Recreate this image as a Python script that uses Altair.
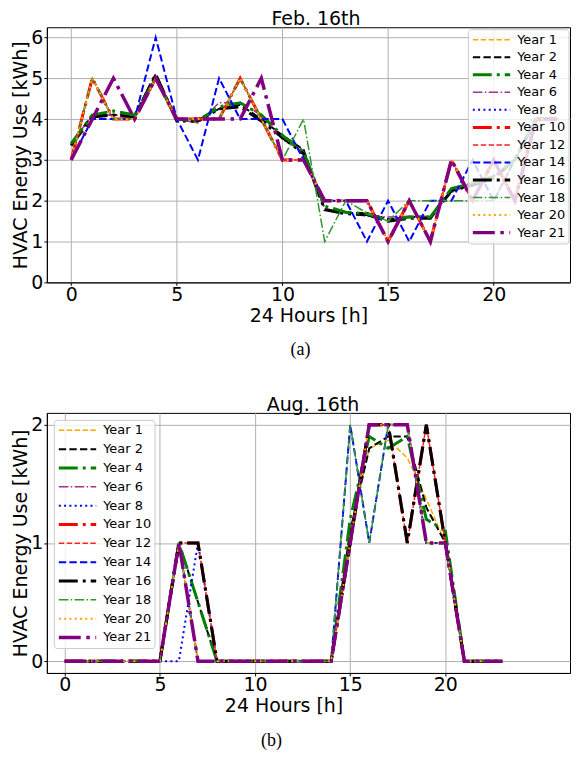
import altair as alt
import pandas as pd

hours = list(range(24))
series = ["Year 1", "Year 2", "Year 4", "Year 6", "Year 8", "Year 10",
          "Year 12", "Year 14", "Year 16", "Year 18", "Year 20", "Year 21"]
colors = ["#ffa500", "#000000", "#008000", "#993399", "#0000ff", "#ff0000",
          "#ff2020", "#0000ff", "#000000", "#2e962e", "#ffa500", "#800080"]
widths = [1.5, 2, 3, 1.5, 2, 3, 1.5, 2, 3, 1.5, 2, 3.5]
dashes = [[5.5, 2.4], [7.4, 3.2], [19, 5, 3, 5], [9.6, 2.4, 1.5, 2.4], [2, 3.3],
          [19, 5, 3, 5], [5.5, 2.4], [7.4, 3.2], [19, 5, 3, 5],
          [9.6, 2.4, 1.5, 2.4], [2, 3.3], [22, 5.6, 3.5, 5.6]]
x_ticks = [0, 5, 10, 15, 20]

# drawing order (bottom to top) of the series in each panel
feb_draw_order = ["Year 1", "Year 2", "Year 6", "Year 16", "Year 4", "Year 8",
                  "Year 10", "Year 12", "Year 14", "Year 18", "Year 20", "Year 21"]
aug_draw_order = series

# ---- Feb. 16th ----
feb_year1 = [3, 5, 4, 4, 5, 4, 4, 4, 5, 4, 3, 3, 2, 2, 2, 1, 2, 1, 3, 2, 3, 2, 4, 4]
feb_year2 = [3.4, 4.1, 4.1, 4.1, 5.1, 4.0, 4.0, 4.25, 4.35, 4.0, 3.6, 3.25,
             1.8, 1.7, 1.7, 1.55, 1.6, 1.6, 2.25, 2.4, 2.6, 3.0, 4.0, 4.0]
feb_year4 = [3.4, 4.1, 4.2, 4.1, 5.0, 4.0, 3.95, 4.3, 4.4, 4.1, 3.6, 3.2,
             1.87, 1.72, 1.68, 1.52, 1.6, 1.6, 2.3, 2.43, 2.6, 3.0, 4.0, 4.0]
feb_year6 = [3.4, 4.1, 4.1, 4.1, 5.0, 4.0, 3.9, 4.4, 4.4, 4.1, 3.5, 3.2,
             1.8, 1.7, 1.62, 1.6, 1.62, 1.62, 2.2, 2.45, 2.6, 3.0, 4.0, 4.0]
feb_year8 = [3, 5, 4, 4, 5, 4, 4, 4, 5, 4, 3, 3, 2, 2, 2, 1, 2, 1, 3, 2, 3, 2, 4, 4]
feb_year10 = [3, 5, 4, 4, 5, 4, 4, 4, 5, 4, 3, 3, 2, 2, 2, 1, 2, 1, 3, 2, 3, 2, 4, 4]
feb_year12 = [3, 5, 4, 4, 5, 4, 4, 4, 5, 4, 3, 3, 2, 2, 2, 1, 2, 1, 3, 2, 3, 2, 4, 4]
feb_year14 = [3, 4, 4, 4, 6, 4, 3, 5, 4, 4, 4, 3, 2, 2, 1, 2, 1, 2, 2, 3, 2, 3, 4, 4]
feb_year16 = [3.35, 4.05, 4.1, 4.05, 5.1, 3.95, 3.95, 4.25, 4.3, 3.95, 3.55, 3.15,
              1.78, 1.68, 1.66, 1.5, 1.57, 1.57, 2.25, 2.38, 2.55, 3.0, 4.0, 4.0]
feb_year18 = [3, 5, 4, 4, 5, 4, 4, 4, 5, 4, 3, 4, 1, 2, 1.7, 1.5, 2, 2, 2, 2, 2, 3, 4, 4]
feb_year20 = [3, 5, 4, 4, 5, 4, 4, 4, 5, 4, 3, 3, 2, 2, 2, 1, 2, 1, 3, 2, 3, 2, 4, 4]
feb_year21 = [3, 4, 5, 4, 5, 4, 4, 4, 4, 5, 3, 3, 2, 2, 2, 1, 2, 1, 3, 2, 3, 2, 4, 4]

# ---- Aug. 16th ----
aug_year1 = [0, 0, 0, 0, 0, 0, 1, 0, 0, 0, 0, 0, 0, 0, 0, 1.1, 1.8, 1.87, 1.72, 1.37, 1.0, 0, 0, 0]
aug_year2 = [0, 0, 0, 0, 0, 0, 1, 0.5, 0, 0, 0, 0, 0, 0, 0, 1.1, 1.8, 1.9, 1.9, 1.3, 1.0, 0, 0, 0]
aug_year4 = [0, 0, 0, 0, 0, 0, 1, 0.5, 0, 0, 0, 0, 0, 0, 0, 1.2, 1.9, 1.8, 1.9, 1.2, 1.1, 0, 0, 0]
aug_year6 = [0, 0, 0, 0, 0, 0, 1, 0, 0, 0, 0, 0, 0, 0, 0, 1, 2, 2, 2, 1, 1, 0, 0, 0]
aug_year8 = [0, 0, 0, 0, 0, 0, 0, 1, 0, 0, 0, 0, 0, 0, 0, 1, 2, 2, 2, 1, 1, 0, 0, 0]
aug_year10 = [0, 0, 0, 0, 0, 0, 1, 1, 0, 0, 0, 0, 0, 0, 0, 1, 2, 2, 1, 2, 1, 0, 0, 0]
aug_year12 = [0, 0, 0, 0, 0, 0, 1, 1, 0, 0, 0, 0, 0, 0, 0, 1, 2, 2, 1, 2, 1, 0, 0, 0]
aug_year14 = [0, 0, 0, 0, 0, 0, 1, 0, 0, 0, 0, 0, 0, 0, 0, 2, 1, 2, 2, 1, 1, 0, 0, 0]
aug_year16 = [0, 0, 0, 0, 0, 0, 1, 1, 0, 0, 0, 0, 0, 0, 0, 1, 2, 2, 1, 2, 1, 0, 0, 0]
aug_year18 = [0, 0, 0, 0, 0, 0, 1, 0, 0, 0, 0, 0, 0, 0, 0, 2, 1, 2, 2, 1, 1, 0, 0, 0]
aug_year20 = [0, 0, 0, 0, 0, 0, 1, 0, 0, 0, 0, 0, 0, 0, 0, 1, 2, 2, 2, 1, 1, 0, 0, 0]
aug_year21 = [0, 0, 0, 0, 0, 0, 1, 0, 0, 0, 0, 0, 0, 0, 0, 1, 2, 2, 2, 1, 1, 0, 0, 0]

feb_lists = [feb_year1, feb_year2, feb_year4, feb_year6, feb_year8, feb_year10,
             feb_year12, feb_year14, feb_year16, feb_year18, feb_year20, feb_year21]
aug_lists = [aug_year1, aug_year2, aug_year4, aug_year6, aug_year8, aug_year10,
             aug_year12, aug_year14, aug_year16, aug_year18, aug_year20, aug_year21]


def long_table(lists, order):
    by_name = dict(zip(series, lists))
    rows = []
    for name in order:
        for h, v in zip(hours, by_name[name]):
            rows.append({"hour": h, "value": v, "series": name})
    return pd.DataFrame(rows)


PLOT_W = 525


def panel(df, title, title_dx, plot_h, xdomain, ydomain, yticks, leg_x, leg_y,
          row_pad, caption, cap_x, cap_y, xtitle_x=None):
    leg = alt.Legend(orient="none", legendX=leg_x, legendY=leg_y, title=None,
                     symbolType="M-1,0H4", symbolSize=225, clipHeight=15,
                     rowPadding=row_pad, labelOffset=27.5, labelFontSize=13,
                     labelFont="DejaVu Sans", labelColor="black",
                     fillColor="rgba(255,255,255,0.8)", strokeColor="#cccccc",
                     cornerRadius=3, padding=3)
    xaxis_kw = dict(values=x_ticks, title="24 Hours [h]", labelFlush=False,
                    labelOverlap=False, titlePadding=2, labelPadding=0)
    if xtitle_x is not None:
        xaxis_kw["titleX"] = xtitle_x
    lines = alt.Chart(df).mark_line(strokeCap="butt").encode(
        x=alt.X("hour:Q", scale=alt.Scale(domain=xdomain, nice=False, zero=False),
                axis=alt.Axis(**xaxis_kw)),
        y=alt.Y("value:Q", scale=alt.Scale(domain=ydomain, nice=False, zero=False),
                axis=alt.Axis(values=yticks, title="HVAC Energy Use [kWh]",
                              labelFlush=False, titlePadding=0, labelPadding=1)),
        color=alt.Color("series:N", scale=alt.Scale(domain=series, range=colors),
                        legend=leg),
        strokeDash=alt.StrokeDash("series:N",
                                  scale=alt.Scale(domain=series, range=dashes),
                                  legend=leg),
        strokeWidth=alt.StrokeWidth("series:N",
                                    scale=alt.Scale(type="ordinal", domain=series,
                                                    range=widths),
                                    legend=leg),
    )
    cap = alt.Chart(pd.DataFrame({"c": [caption]})).mark_text(
        font="Liberation Serif", fontSize=18, color="black", baseline="middle"
    ).encode(text="c:N", x=alt.value(cap_x), y=alt.value(cap_y))
    return alt.layer(lines, cap).properties(
        width=PLOT_W, height=plot_h,
        title=alt.TitleParams(title, font="DejaVu Sans", fontSize=19,
                              fontWeight="normal", color="black", offset=-2,
                              dx=title_dx, frame="group", anchor="middle"),
    )


feb_df = long_table(feb_lists, feb_draw_order)
aug_df = long_table(aug_lists, aug_draw_order)

top = panel(feb_df, "Feb. 16th", 7.5, 256, [-1.15, 23.61], [0, 6.25],
            [0, 1, 2, 3, 4, 5, 6], 422.5, 2, 2.6, "(a)", 254.5, 324)
bottom = panel(aug_df, "Aug. 16th", 4.5, 261, [-0.94, 26.55], [-0.1, 2.1], [0, 1, 2],
               7, 7, 3.9, "(b)", 225.5, 329, xtitle_x=237.5)

chart = alt.vconcat(top, bottom, spacing=35).resolve_scale(
    color="independent", strokeDash="independent", strokeWidth="independent"
).resolve_legend(
    color="independent", strokeDash="independent", strokeWidth="independent"
).properties(
    padding={"left": 3, "top": 0, "right": 0, "bottom": 0}
).configure_view(
    stroke="black", strokeWidth=1
).configure_axis(
    labelFont="DejaVu Sans", titleFont="DejaVu Sans", labelFontSize=19,
    titleFontSize=19, titleFontWeight="normal", labelColor="black",
    titleColor="black", domainColor="black", tickColor="black", tickSize=3,
    labelPadding=2, titlePadding=2, gridColor="#b0b0b0", gridWidth=1
)

chart.save("out.html", embed_options={"renderer": "svg", "actions": False})
